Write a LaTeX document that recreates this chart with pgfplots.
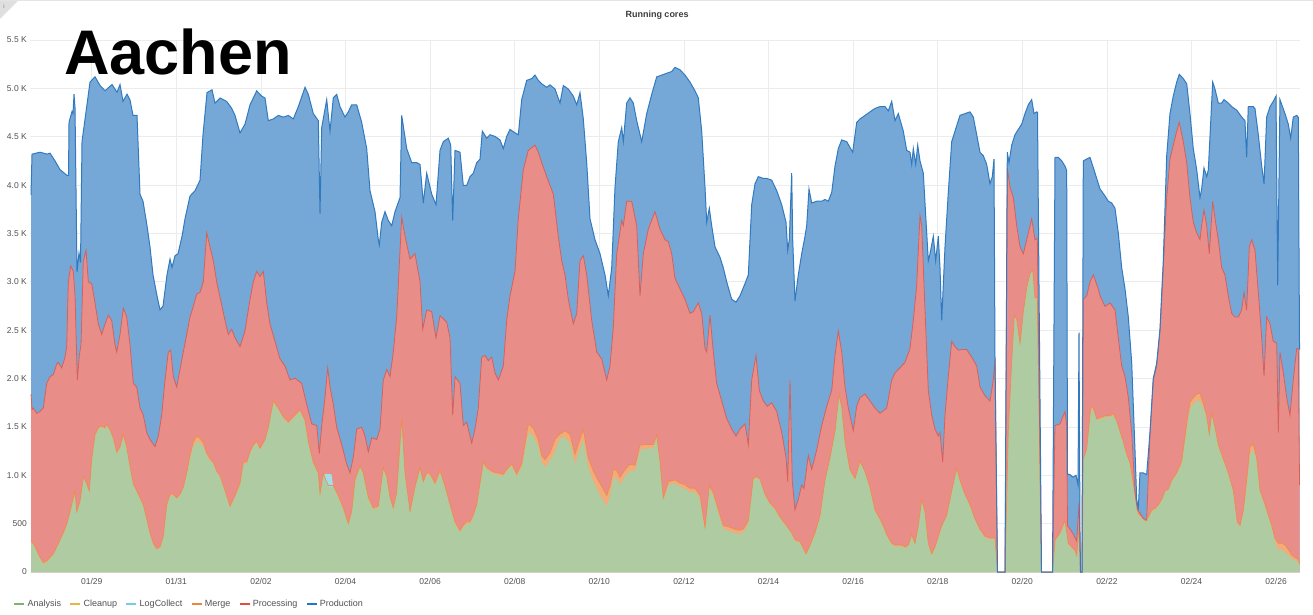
\documentclass[border=0pt]{standalone}
\usepackage{fontspec}
\setmainfont{Liberation Sans}
\usepackage{pgfplots}
\usepackage{pgfplotstable}
\pgfplotsset{compat=1.18}
\definecolor{prodfill}{RGB}{117,168,214}
\definecolor{prodline}{RGB}{50,122,192}
\definecolor{procfill}{RGB}{233,141,136}
\definecolor{procline}{RGB}{214,96,90}
\definecolor{anafill}{RGB}{174,203,162}
\definecolor{mergefill}{RGB}{243,171,121}
\definecolor{mergeline}{RGB}{236,140,80}
\definecolor{logfill}{RGB}{160,222,232}
\definecolor{ana}{RGB}{126,178,109}
\definecolor{clean}{RGB}{234,184,57}
\definecolor{logc}{RGB}{110,208,224}
\definecolor{merge}{RGB}{239,132,60}
\definecolor{proc}{RGB}{226,77,66}
\definecolor{prod}{RGB}{31,120,193}
\definecolor{gridgrey}{RGB}{236,236,236}
\definecolor{tickgrey}{RGB}{80,80,80}

% px = horizontal position (pixels of the source chart), v = cumulative running cores (top of Production)
\pgfplotstableread{
px v
31 3900
32 4320
40 4340
47 4320
50 4330
55 4250
60 4160
67 4100
68.5 4100
69 4650
72 4760
73 4740
74 4940
75 4800
77 3100
79 3300
80.5 3200
82 4450
90 5065
95 5120
100 5030
105 4975
112 5040
117 4960
120 5040
123 4865
127 4940
130 4880
133 4720
137 4720
140 3905
143 3833
147 3580
150 3360
153 3072
157 2855
160 2710
163 2750
167 3072
170 3235
172 3150
175 3270
178 3290
182 3470
185 3652
190 3887
195 3942
200 4050
203 4521
207 4956
212 4985
215 4848
220 4900
226.7 4865
231.7 4793
235 4720
240 4540
245 4630
250 4830
256.7 4974
261.7 4920
265 4900
268.3 4666
273.3 4684
278.3 4720
283.3 4703
288.3 4720
293.3 4684
298.3 4811
305 5011
308.3 4938
313.3 4739
318.3 4666
320 3706
321.7 4594
326.7 4884
330 4557
333.3 4902
336.7 4938
340 4811
345 4703
348.3 4757
351.7 4830
356.7 4830
361.7 4648
366.7 4377
370 3942
375 3725
378.3 3435
379.3 3380
381.7 3616
385 3725
388.3 3634
391.7 3580
395 3725
400 3870
401.7 4720
406.7 4377
411.7 4232
416.7 4232
420 4214
423.3 3815
426.7 4123
431.7 3906
436 3797
440 4359
443.3 4449
448.3 4485
450.7 4413
452.7 3634
455 4359
460 4340
463.3 3996
466.7 3996
470 4087
473.3 4123
476.7 4232
480 4268
482.3 4558
486.7 4485
490 4521
495 4503
500 4467
503.3 4377
506.7 4503
510 4576
515 4540
518.3 4521
521.7 4884
526.7 5083
531.7 5101
535 5137
538.3 5083
541.7 5047
546.7 5011
550 5036
555 4993
560 4848
563.3 5029
568.3 4993
573.3 4920
576.7 4830
580 4956
583.3 4684
586.7 4232
590 3652
595 3435
600 3290
605 3072
608.3 2855
611.7 3145
615 3978
618.3 4449
621.7 4594
623.3 4449
626.7 4848
630 4902
633.3 4848
636.7 4666
641.7 4449
646.7 4739
651.7 4938
656.7 5119
661.7 5137
666.7 5156
671.7 5174
675 5217
680 5192
685 5137
690 5065
695 4974
698.3 4902
701.7 4558
705 3978
706.7 3616
709.3 3761
711.7 3580
715 3362
720 3253
723.3 3145
726.7 3000
731.7 2819
736 2790
740 2855
745 2982
748.3 3072
751.7 3797
755 4014
758.3 4087
763.3 4069
766.7 4069
771.7 4051
776.7 3942
781.7 3797
786 3616
787.7 3326
789.3 3435
791.7 4123
792.7 3435
795 2800
798.3 3072
801.7 3290
805 3471
806.7 3580
809 3960
811.7 3815
816.7 3833
821.7 3833
825 3851
828.3 3833
831.7 3924
835 4196
838.3 4377
841.7 4467
846.7 4449
852.7 4340
856.7 4648
860 4684
865 4720
870 4757
875 4793
880 4811
885 4811
888.3 4768
891.7 4866
895 4666
898.3 4739
903.3 4558
906.7 4359
910 4340
911.7 4214
913.3 4377
915.7 4214
917.7 4413
920 4250
923.3 4123
925.7 3688
928.3 3217
930 3290
933.3 3471
935.7 3217
938.3 3471
940 3145
941.7 2601
945 3362
948.3 3924
951.7 4449
955 4558
960 4721
965 4739
970 4757
973.3 4703
976.7 4521
980 4340
983.3 4304
986.7 4214
990 4014
992.3 4087
994 4268
995 2203
997.5 0
1005 0
1007.3 4340
1009 4232
1011.7 4413
1015 4521
1018.3 4576
1021.7 4630
1025 4739
1028.3 4830
1031.7 4884
1034 4739
1036.7 4757
1037.5 4750
1041.5 0
1052.5 0
1055 4286
1058.3 4286
1061.7 4250
1065 4196
1066.7 4150
1067.5 1010
1070 1007
1073 980
1076 1000
1078 900
1079 2475
1080 400
1080.5 0
1082 0
1083.3 4250
1086.7 4270
1090 4286
1093.3 4180
1100 3960
1105 3888
1108.3 3833
1111.7 3815
1115 3761
1118.3 3507
1121.7 3145
1125 2927
1128.3 2637
1131.7 2167
1135 1261
1136.7 754
1138.3 645
1140 1025
1143.3 1025
1146.7 1007
1150 1442
1153.3 2000
1156.7 2160
1160 2510
1163.3 3217
1166.7 4304
1170 4739
1173.3 4920
1176.7 5065
1179.3 5145
1183.3 5101
1186.7 5047
1190 4739
1193.3 4377
1196.7 4159
1200 3870
1201.7 3960
1204 4177
1206.7 4087
1208.3 4159
1212.7 5065
1215 4993
1218.3 4848
1221.7 4848
1224 4884
1228.3 4848
1231.7 4811
1236.7 4775
1241.7 4703
1245 4666
1246.7 4286
1248.3 4811
1253.3 4811
1255 4790
1258.3 4521
1261.7 4196
1264 4014
1266.7 4703
1270 4811
1273.3 4866
1276 4920
1277.7 2964
1280 4884
1285 4739
1288.3 4630
1290.7 4485
1293.3 4703
1296.7 4721
1298.3 4700
1299.5 2300
}\totaltab

% v = cumulative cores up to the top of Processing
\pgfplotstableread{
px v
31 1840
32 1680
33.3 1695
36.7 1640
40 1660
43.3 1695
46.7 1950
50 2020
53.3 2040
56.7 2150
58.3 2167
61.7 2110
65 2220
66.7 2330
68.3 3000
70.7 3163
73.3 3110
75 2855
77.3 1985
79.3 2240
81 2348
83.3 3217
86 3326
88.3 3000
91.7 2980
95 2782
98.3 2565
101.7 2456
105 2565
108.3 2655
111.7 2600
115 2348
116.7 2275
120 2456
123.3 2728
126.7 2637
130 2348
133.3 1950
136.7 1913
140 1695
143.3 1623
146.7 1442
150 1370
155 1297
158.3 1405
161.7 1623
165 1985
168.3 2275
170.7 2293
173.3 2020
176.7 1913
180 2094
183.3 2275
186.7 2456
190 2637
193.3 2746
196.7 2873
200 2891
203.3 3000
206.7 3507
210 3362
213.3 3217
216.7 3000
220 2840
225 2601
228.3 2456
231.7 2510
235 2420
240 2330
245 2493
250 2819
253.3 3000
256.7 3109
260 3055
263.3 3109
266.7 2782
270 2565
275 2384
280 2203
285 2130
290 1985
295 2003
301.7 1949
306.7 1732
311.7 1532
316.7 1514
319.3 1225
321.7 1514
325 1804
327.7 2112
330 1913
333.3 1732
336.7 1496
341.7 1315
346.7 1116
350 1025
353.3 1188
356.7 1478
361.7 1496
365 1406
368.3 1243
371.7 1388
376.7 1370
380 1478
383.3 1985
386.7 2094
390 2020
393.3 2275
396.7 2637
401.7 3670
405 3471
410 3235
415 3290
420 3000
422.7 2510
426.7 2710
431.7 2692
436 2420
440 2650
446.7 2583
450 2420
452.7 1623
455 2020
460 1949
463.3 1514
466.7 1550
471.7 1333
475 1478
478.3 1695
481.7 2221
485 2239
488.3 2185
491.7 2221
495 2058
498.3 1985
503.3 2130
506.7 2601
510 2855
515 3109
518.3 3652
523.3 4159
528.3 4359
535 4413
538.3 4340
541.7 4232
546.7 4087
553.3 3906
558.3 3471
561.7 3217
565 3072
568.3 2819
573.3 2565
576.7 2673
580 3217
583.3 3271
586.7 3072
591.7 2601
596.7 2275
601.7 2203
606.7 1985
610 2130
613.3 2529
616.7 3290
621.7 3634
623.3 3580
626.7 3833
631.7 3833
636.7 3580
640 2855
643.3 3290
648.3 3544
655 3725
660 3544
665 3435
668.3 3416
671.7 3290
675 3036
680 2927
685 2819
690 2673
693.3 2692
698.3 2782
701.7 2673
705 2311
706.7 2275
710 2655
713.3 2275
716.7 1949
721.7 1768
726.7 1587
731.7 1478
736 1406
740 1478
745 1532
748.3 1315
751.7 1985
756 2239
759.3 1877
763.3 1768
767.3 1713
771.7 1750
776.7 1659
781.7 1442
786 1188
787.7 935
790 1985
792.3 935
795 645
798.3 754
801.7 899
804 862
808.3 1206
811.7 1061
816.7 1261
821.7 1514
826.7 1713
831.7 1877
835 2239
838.3 2493
841.7 2275
845 1913
848.3 1695
853.3 1460
856.7 1713
860 1804
865 1840
870 1768
875 1695
880 1641
886.7 1695
891.7 1985
895 2058
900 2112
905 2167
910 2311
913.3 2601
916.7 2964
920 3688
921.7 3580
925 2710
928.3 1877
931.7 1623
935 1478
938.3 1406
940 1442
942.7 1134
945 1623
948.3 2022
951.7 2384
955 2330
958.3 2293
961.7 2300
966.7 2300
971.7 2221
976.7 2130
980 1913
985 1822
990 1768
993.3 1985
995 2203
997.5 0
1005 0
1007.3 4177
1010 3978
1013.3 3870
1016.7 3580
1020 3362
1023.3 3290
1026.7 3435
1031.7 3652
1035 3435
1037.3 3450
1041.5 0
1052.5 0
1055 1514
1060 1532
1065 1659
1066.7 1514
1067.5 480
1070 446
1073.3 391
1076.7 319
1079 717
1080 300
1080.5 0
1082 0
1083.3 2819
1086.7 2855
1090 3000
1093.3 3072
1098.3 2927
1100 2855
1105 2746
1110 2782
1115 2710
1118.3 2420
1121.7 2130
1125 2022
1128.3 1804
1131.7 1442
1135 826
1137.3 645
1140 609
1143.3 554
1146.7 536
1150 1406
1153.3 1985
1156.7 2130
1160 2493
1163.3 3145
1166.7 3870
1170 4268
1173.3 4413
1176.7 4557
1179.3 4648
1183.3 4449
1186.7 4232
1190 3870
1193.3 3616
1196.7 3507
1200 3435
1201.7 3580
1204 3743
1206.7 3580
1209.3 3290
1212.7 3833
1215 3652
1218.3 3435
1221.7 3145
1225 3072
1228.3 2855
1231.7 2673
1235 2637
1238.3 2637
1241.7 2710
1244 2891
1246.7 2710
1249.3 3362
1251.7 3435
1255 3326
1258.3 2891
1261.7 2420
1264 2022
1266.7 2637
1270 2565
1273.3 2384
1276.7 2366
1278.3 1442
1280 2275
1283.3 2058
1286.7 1804
1290 1623
1293.3 1985
1296.7 2311
1298.3 2311
1299.5 900
}\proctab

% a = Analysis cores, m = Merge cores (stacked on Analysis)
\pgfplotstableread{
px a m
31 300 15
33.3 283 15
36.7 210 15
40 138 15
43.3 83 15
46.7 100 15
50 138 15
53.3 174 15
56.7 246 15
60 319 15
63.3 391 15
66.7 482 15
70 609 15
73.3 754 15
75 826 15
76.7 609 15
80 717 15
83.3 971 15
86.7 899 15
89.3 826 15
91.7 1152 15
95 1406 15
98.3 1478 15
101.7 1496 15
105 1478 15
106.7 1514 15
110 1460 15
113.3 1370 15
116.7 1225 15
120 1279 15
123.3 1406 15
126.7 1279 15
130 1080 15
133.3 899 15
136.7 826 15
140 754 15
143.3 681 15
146.7 536 15
150 391 15
153.3 283 15
156.7 228 15
160 246 15
163.3 355 15
166.7 681 15
170 790 15
173.3 790 15
176.7 754 15
180 790 15
183.3 862 15
186.7 1007 20
190 1170 40
193.3 1297 50
196.7 1351 55
200 1333 50
203.3 1297 40
206.7 1206 25
210 1152 20
213.3 1116 20
216.7 1025 20
220 980 20
225 826 20
230 663 20
235 772 20
240 899 20
243.3 1116 20
246.7 1116 20
250 1225 20
253.3 1297 20
256.7 1333 20
260 1261 20
265 1351 20
268.3 1478 20
273.3 1750 20
278.3 1677 20
283.3 1587 20
288.3 1532 20
293.3 1587 20
300 1659 20
305 1551 20
308.3 1333 20
313.3 1116 20
318.3 1007 20
320 790 20
323.3 1007 15
326 930 15
328.3 880 15
333.3 880 15
338.3 772 20
343.3 645 20
348.3 482 20
351.7 609 20
355 935 20
360 1080 20
363.3 1007 20
368.3 754 20
373.3 645 20
378.3 663 20
383.3 1061 20
386.7 971 20
390 754 20
393.3 645 20
396.7 808 20
401.7 1569 20
405 1007 20
410 609 20
415 862 20
420 1061 20
423.3 917 20
426.7 1007 20
430 1000 20
435 899 20
440 1030 20
445 870 20
450 681 20
455 500 20
460 409 20
463.3 464 20
466.7 500 20
470 500 20
473.3 572 20
476.7 681 20
480 899 20
483.3 1116 20
486.7 1061 20
491.7 1025 20
495 1010 20
500 1000 20
503.3 990 20
506.7 1043 20
511.7 1098 20
516.7 989 25
521.7 1080 40
528.3 1442 90
533.3 1406 80
538.3 1297 70
541.7 1134 70
545 1080 80
550 1152 80
555 1243 130
560 1388 40
565 1388 70
570 1333 90
575 1116 100
578.3 1225 100
583.3 1370 100
588.3 1080 100
593.3 935 110
598.3 826 120
603.3 736 120
606.7 681 110
610 790 100
613.3 971 90
616.7 971 80
620 899 80
625 989 70
630 1043 70
635 1043 60
640 1261 50
646.7 1279 40
653.3 1279 40
656.7 1388 30
660 1116 25
663.3 736 30
668.3 899 35
675 917 35
680 880 40
685 862 40
690 826 40
695 826 40
700 754 40
705 428 35
709.3 862 30
713.3 790 30
718.3 609 35
723.3 446 35
728.3 428 40
733.3 409 40
738.3 391 40
743.3 409 35
748.3 500 30
753.3 953 20
756.7 971 15
760 950 15
765 790 15
770 699 15
775 645 15
780 554 15
786.7 464 15
791.7 391 15
795 319 15
800 301 15
806 174 15
810 264 15
815 391 15
820 572 15
825 935 15
830 1170 15
835 1442 15
839 1822 15
841.7 1695 15
845 1333 15
850 1043 15
855 953 15
860 1134 15
865 1025 15
870 862 15
875 627 15
880 536 15
883.3 464 15
886.7 373 15
891.7 283 15
895 264 15
898.3 264 15
901.7 264 15
905 246 15
908.3 264 15
911.7 373 15
915 283 15
918.3 464 15
921.7 736 15
925 609 15
928.3 283 15
931.7 174 15
935 246 15
938.3 355 15
941.7 464 15
946.7 572 15
951.7 826 15
956.7 1061 15
960 935 15
965 790 15
970 681 15
975 536 15
980 428 15
985 355 15
990 337 15
995 340 10
997.5 0 0
1005 0 0
1008.3 1442 15
1011.7 2167 15
1014.3 2637 15
1016.7 2601 15
1020 2348 15
1023.3 2673 15
1026.7 2927 15
1030 3072 15
1032.7 3109 15
1035 2819 15
1037.3 2830 15
1041.5 0 0
1052.5 0 0
1055 319 15
1060 391 15
1065 518 15
1068.3 283 15
1071.7 246 15
1075 210 15
1076.7 156 15
1079 464 10
1080 200 0
1080.5 0 0
1082 0 0
1083.3 1152 15
1086.7 1261 15
1090.7 1677 20
1093.3 1677 20
1096.7 1569 15
1101.7 1587 15
1105 1600 15
1110 1600 15
1113.3 1623 15
1116.7 1551 15
1120 1442 15
1123.3 1333 15
1126.7 1206 15
1130 1116 15
1133.3 899 15
1136.7 681 15
1138.3 591 15
1141.7 554 15
1145 518 15
1148.3 554 15
1151.7 627 15
1155 645 15
1158.3 681 15
1161.7 736 15
1165 826 15
1168.3 844 15
1171.7 935 15
1176.7 1007 20
1181.7 1116 30
1186.7 1478 60
1190 1695 60
1193.3 1732 70
1196.7 1768 70
1200 1768 80
1203.3 1695 50
1206.7 1587 30
1209.3 1406 20
1211.7 1623 20
1215 1478 20
1218.3 1297 20
1223.3 1152 20
1228.3 1007 20
1233.3 826 20
1237.3 500 20
1240 464 20
1243.3 609 30
1246.7 899 50
1250 1225 70
1253.3 1261 60
1256.7 1152 30
1260 826 20
1265 681 20
1268.3 572 20
1271.7 464 20
1275 319 30
1278.3 228 70
1281.7 228 70
1285 210 70
1288.3 174 60
1291.7 138 40
1295 120 30
1298.3 101 30
1299.5 65 20
}\anatab

% LogCollect blip: v = cumulative top (Analysis + LogCollect)
\pgfplotstableread{
px v
322 900
323.3 1007
326 1015
329 1012
331.5 1010
333.3 880
}\logtab

\begin{document}
\begin{tikzpicture}
\begin{axis}[
  scale only axis, width=1270pt, height=532pt,
  xmin=-1.459, xmax=28.565, ymin=0, ymax=5500,
  axis line style={draw=none},
  major tick length=0pt,
  no markers,
  xtick={0,2,...,28},
  xticklabels={01/29,01/31,02/02,02/04,02/06,02/08,02/10,02/12,02/14,02/16,02/18,02/20,02/22,02/24,02/26},
  ytick={0,500,...,5500},
  yticklabels={0,500,1.0 K,1.5 K,2.0 K,2.5 K,3.0 K,3.5 K,4.0 K,4.5 K,5.0 K,5.5 K},
  grid=major, major grid style={draw=gridgrey, line width=0.8pt},
  tick label style={font=\fontsize{8.5}{9}\selectfont, text=tickgrey},
  yticklabel style={anchor=east, inner sep=0pt, xshift=-3pt},
  xticklabel style={anchor=north, inner sep=0pt, yshift=-6pt},
  legend columns=6,
  legend image code/.code={\draw[#1, line width=2.5pt] (0pt,0pt) -- (10pt,0pt);},
  legend style={at={(0,0)}, anchor=west, xshift=-17pt, yshift=-32pt,
    draw=none, fill=none, inner sep=0pt,
    font=\fontsize{9}{10}\selectfont, text=tickgrey,
    /tikz/every even column/.append style={column sep=6pt}},
  legend cell align=left,
]
\addlegendimage{color=ana}\addlegendentry{Analysis}
\addlegendimage{color=clean}\addlegendentry{Cleanup}
\addlegendimage{color=logc}\addlegendentry{LogCollect}
\addlegendimage{color=merge}\addlegendentry{Merge}
\addlegendimage{color=proc}\addlegendentry{Processing}
\addlegendimage{color=prod}\addlegendentry{Production}

% stacked areas (cumulative tops, drawn back to front)
\addplot[draw=none, fill=prodfill, forget plot] table[x expr=(\thisrow{px}-91.7)/42.3, y=v] {\totaltab} \closedcycle;
\addplot[draw=none, fill=procfill, forget plot] table[x expr=(\thisrow{px}-91.7)/42.3, y=v] {\proctab} \closedcycle;
\addplot[draw=none, fill=mergefill, forget plot] table[x expr=(\thisrow{px}-91.7)/42.3, y expr=\thisrow{a}+\thisrow{m}] {\anatab} \closedcycle;
\addplot[draw=none, fill=logfill, forget plot] table[x expr=(\thisrow{px}-91.7)/42.3, y=v] {\logtab} \closedcycle;
\addplot[draw=none, fill=anafill, forget plot] table[x expr=(\thisrow{px}-91.7)/42.3, y=a] {\anatab} \closedcycle;
% boundary lines
\addplot[mergeline, line width=0.7pt, forget plot] table[x expr=(\thisrow{px}-91.7)/42.3, y expr=\thisrow{a}+\thisrow{m}] {\anatab};
\addplot[procline, line width=0.8pt, forget plot] table[x expr=(\thisrow{px}-91.7)/42.3, y=v] {\proctab};
\addplot[prodline, line width=1pt, forget plot] table[x expr=(\thisrow{px}-91.7)/42.3, y=v] {\totaltab};
\end{axis}
\draw[gray!20, line width=1pt] (-30pt,571.5pt) -- (1283pt,571.5pt);
\fill[gray!25] (-30pt,571pt) -- (-12pt,571pt) -- (-30pt,553pt) -- cycle;
\node[font=\fontsize{6}{6}\selectfont, text=gray, inner sep=0pt] at (-26pt,566pt) {i};
\node[anchor=base west, inner sep=0pt, font=\fontsize{63}{63}\selectfont\bfseries] at (34pt,497pt) {Aachen};
\node[font=\fontsize{9}{10}\selectfont\bfseries, text={rgb,255:red,60;green,60;blue,60}] at (627pt,557pt) {Running cores};
\pgfresetboundingbox
\path[use as bounding box] (-30pt,-42pt) rectangle (1283pt,572pt);
\end{tikzpicture}
\end{document}
